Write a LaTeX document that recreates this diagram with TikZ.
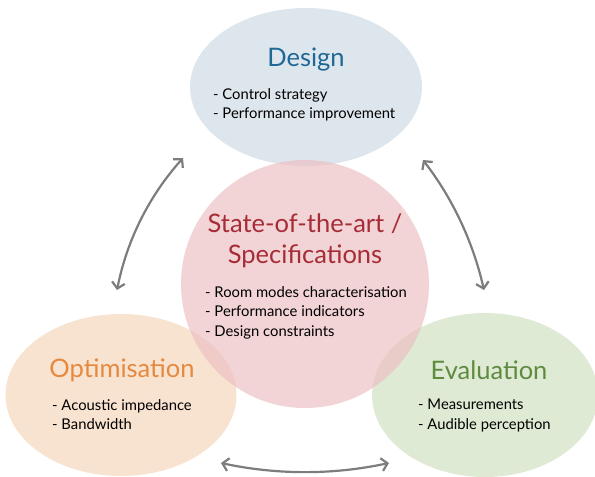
\documentclass[tikz,border=0pt]{standalone}
\usepackage{fontspec}
\setmainfont{Lato}
\usetikzlibrary{shapes.geometric,arrows.meta}
\definecolor{dfill}{RGB}{208,219,229}
\definecolor{sfill}{RGB}{236,192,196}
\definecolor{ofill}{RGB}{245,214,188}
\definecolor{efill}{RGB}{209,225,195}
\definecolor{dtitle}{RGB}{31,104,150}
\definecolor{stitle}{RGB}{166,44,54}
\definecolor{otitle}{RGB}{229,137,63}
\definecolor{etitle}{RGB}{94,139,62}
\definecolor{arrowgray}{RGB}{125,125,125}
\tikzset{
  blob/.style={ellipse, draw=none, fill opacity=0.7, inner sep=0pt},
  titletext/.style={font=\fontsize{25.5}{31}\selectfont, align=center, inner sep=0pt},
  bodytext/.style={font=\fontsize{14.8}{19.6}\selectfont, align=left, anchor=north west, inner sep=0pt, text=black},
  cyclearrow/.style={draw=arrowgray, line width=2.2pt, {Straight Barb[length=6pt,width=13pt]}-{Straight Barb[length=6pt,width=13pt]}}
}
\begin{document}
\begin{tikzpicture}[x=1pt,y=-1pt]
\useasboundingbox (0,0) rectangle (595,477);
% ellipses
\node[blob, fill=dfill, minimum width=232pt, minimum height=158pt] (design) at (306,87) {};
\node[blob, fill=ofill, minimum width=231pt, minimum height=162pt] (optim) at (121,395) {};
\node[blob, fill=efill, minimum width=226pt, minimum height=164pt] (eval) at (485,395) {};
\node[blob, fill=sfill, minimum width=248pt, minimum height=248pt] (state) at (305,284) {};
% titles
\node[titletext, text=dtitle] (designT) at (306,60) {Design};
\node[titletext, text=stitle] (stateT) at (305,241) {State-of-the-art /\\Specifications};
\node[titletext, text=otitle] (optimT) at (122,370) {Optimisation};
\node[titletext, text=etitle] (evalT) at (489,370) {Evaluation};
% bodies
\node[bodytext] (designB) at (213,88) {- Control strategy\\- Performance improvement};
\node[bodytext] (stateB) at (205,286) {- Room modes characterisation\\- Performance indicators\\- Design constraints};
\node[bodytext] (optimB) at (52,399) {- Acoustic impedance\\- Bandwidth};
\node[bodytext] (evalB) at (418,399) {- Measurements\\- Audible perception};
% arrow ends
\coordinate (l1) at (117,290);
\coordinate (l2) at (183,158);
\coordinate (r1) at (423,160);
\coordinate (r2) at (484,290);
\coordinate (b1) at (221,463);
\coordinate (b2) at (389,463);
\draw[cyclearrow] (l1) .. controls (127,240) and (149,196) .. (l2);
\draw[cyclearrow] (r1) .. controls (453,199) and (473,242) .. (r2);
\draw[cyclearrow] (b1) .. controls (277,475) and (333,475) .. (b2);
\end{tikzpicture}
\end{document}
